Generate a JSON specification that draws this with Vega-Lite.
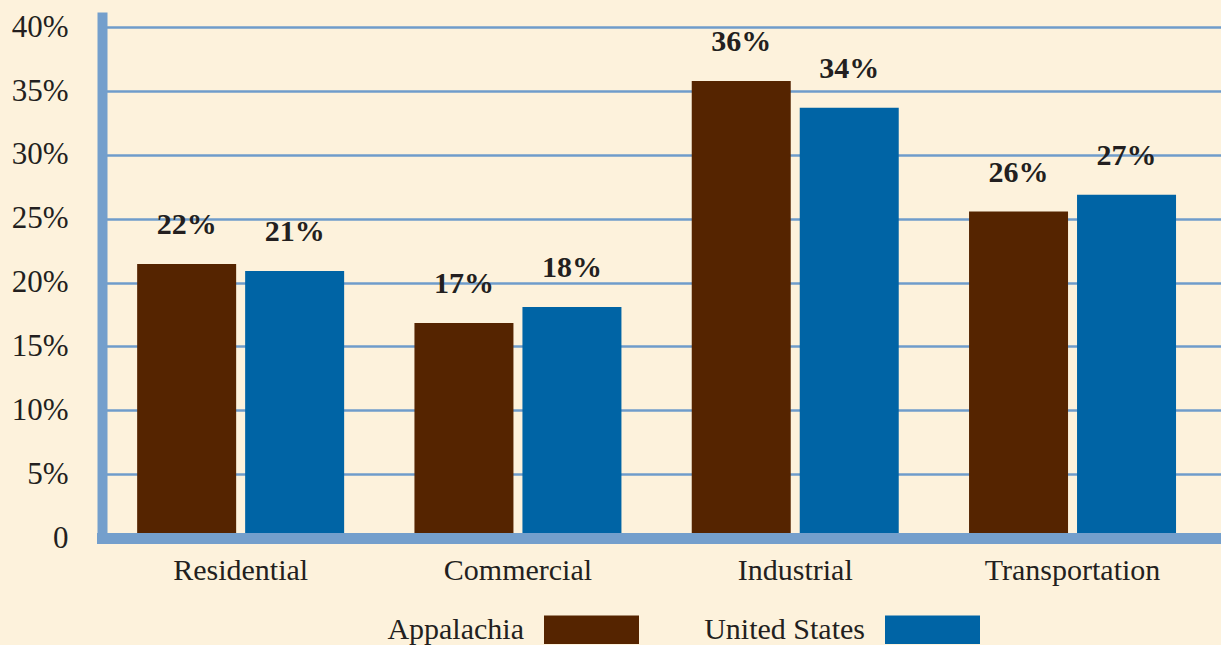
{
  "$schema": "https://vega.github.io/schema/vega-lite/v6.json",
  "width": 1119,
  "height": 526,
  "autosize": {"type": "none"},
  "padding": {"left": 102, "top": 12, "right": 0, "bottom": 107},
  "background": "#FDF2DC",
  "config": {
    "view": {"stroke": null},
    "font": "Liberation Serif",
    "axis": {"labelFont": "Liberation Serif", "labelColor": "#231F20"},
    "legend": {"labelFont": "Liberation Serif", "labelColor": "#231F20"}
  },
  "data": {
    "values": [
      {"category": "Residential", "region": "Appalachia", "value": 21.47, "label": "22%"},
      {"category": "Residential", "region": "United States", "value": 20.92, "label": "21%"},
      {"category": "Commercial", "region": "Appalachia", "value": 16.85, "label": "17%"},
      {"category": "Commercial", "region": "United States", "value": 18.1, "label": "18%"},
      {"category": "Industrial", "region": "Appalachia", "value": 35.8, "label": "36%"},
      {"category": "Industrial", "region": "United States", "value": 33.7, "label": "34%"},
      {"category": "Transportation", "region": "Appalachia", "value": 25.57, "label": "26%"},
      {"category": "Transportation", "region": "United States", "value": 26.88, "label": "27%"}
    ]
  },
  "encoding": {
    "x": {
      "field": "category",
      "type": "nominal",
      "sort": ["Residential", "Commercial", "Industrial", "Transportation"],
      "scale": {"paddingInner": 0, "paddingOuter": 0.0177, "align": 0},
      "axis": {
        "title": null,
        "labelAngle": 0,
        "labelFont": "Liberation Serif",
        "labelFontSize": 30,
        "labelPadding": 17,
        "ticks": false,
        "tickSize": 0,
        "domainColor": "#749FCC",
        "domainWidth": 11,
        "domainCap": "square",
        "zindex": 1
      }
    },
    "xOffset": {
      "field": "region",
      "type": "nominal",
      "scale": {"paddingInner": 0.0833, "paddingOuter": 0.3255}
    },
    "y": {
      "field": "value",
      "type": "quantitative",
      "scale": {"domain": [0, 41.2], "nice": false},
      "axis": {
        "title": null,
        "values": [0, 5, 10, 15, 20, 25, 30, 35, 40],
        "labelExpr": "datum.value == 0 ? '0' : datum.value + '%'",
        "labelFont": "Liberation Serif",
        "labelFontSize": 31,
        "labelPadding": 34,
        "ticks": false,
        "tickSize": 0,
        "domainColor": "#749FCC",
        "domainWidth": 10,
        "grid": true,
        "gridColor": "#6F9CCB",
        "gridWidth": 2.5,
        "gridOpacity": 1
      }
    }
  },
  "layer": [
    {
      "mark": {"type": "bar"},
      "encoding": {
        "color": {
          "field": "region",
          "type": "nominal",
          "scale": {"domain": ["Appalachia", "United States"], "range": ["#552400", "#0064A5"]},
          "legend": {
            "title": null,
            "orient": "none",
            "direction": "horizontal",
            "legendX": 442,
            "legendY": 570,
            "symbolType": "M-1,-0.3H1V0.3H-1Z",
            "symbolSize": 9025,
            "symbolStrokeWidth": 0,
            "symbolOpacity": 1,
            "labelAlign": "right",
            "labelOffset": -115,
            "columnPadding": 65,
            "labelFont": "Liberation Serif",
            "labelColor": "#231F20",
            "labelFontSize": 30,
            "labelLimit": 400
          }
        }
      }
    },
    {
      "mark": {
        "type": "text",
        "baseline": "alphabetic",
        "dy": -30,
        "font": "Liberation Serif",
        "fontSize": 30,
        "fontWeight": "bold",
        "color": "#231F20"
      },
      "encoding": {
        "text": {"field": "label"}
      }
    }
  ]
}
